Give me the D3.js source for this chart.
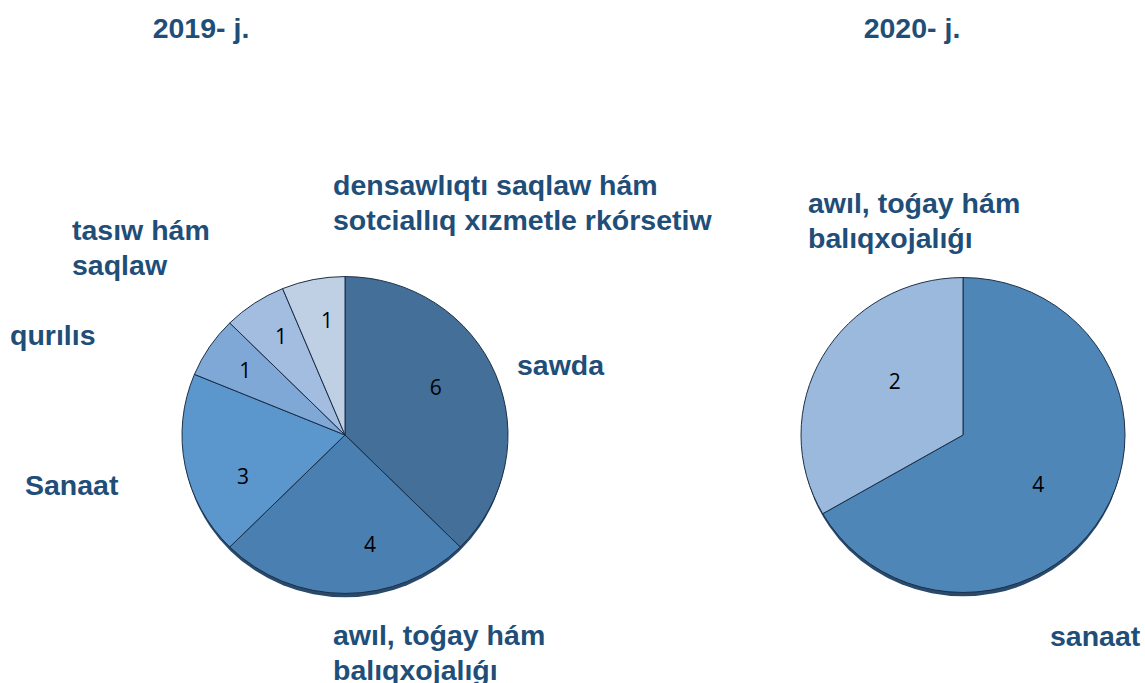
<!DOCTYPE html>
<html>
<head>
<meta charset="utf-8">
<script src="https://cdn.jsdelivr.net/npm/d3@7"></script>
<style>
  body { margin: 0; background: #fff; }
  .cat { font-family: "Liberation Sans", Arial, sans-serif; font-weight: bold; font-size: 28.5px; fill: #1f4e79; }
  .val { font-family: "Open Sans", "Liberation Sans", sans-serif; font-size: 21px; fill: #000; }
</style>
</head>
<body>
<svg id="chart" width="1145" height="683"></svg>
<script>
// Data
var titles = ["2019- j.", "2020- j."];
var cats2019 = ["sawda", "awıl, toǵay hám\nbalıqxojalıǵı", "Sanaat", "qurılıs", "tasıw hám\nsaqlaw", "densawlıqtı saqlaw hám\nsotciallıq xızmetle rkórsetiw"];
var vals2019 = [6, 4, 3, 1, 1, 1];
var cats2020 = ["sanaat", "awıl, toǵay hám\nbalıqxojalıǵı"];
var vals2020 = [4, 2];

// Layout / style
var colors2019 = ["#446f98", "#4a7fb1", "#5b96cd", "#7fa8d6", "#a3bde0", "#bfd0e5"];
var colors2020 = ["#4f86b8", "#9bb9dd"];
var pies = [
  { title: titles[0], tx: 201, cats: cats2019, vals: vals2019, colors: colors2019, cx: 345, cy: 435, r: 163, lr: 108,
    nudge: [[-9, -7], [25, 5], [4, 21], [-10, -6], [-4, -11], [3, -11]],
    labelPos: [[517, 375], [333, 645], [25, 495], [10, 345], [72, 240], [333, 195]] },
  { title: titles[1], tx: 912, cats: cats2020, vals: vals2020, colors: colors2020, cx: 963, cy: 435, r: 162, lr: 88,
    nudge: [[-1, 7], [8, -11]],
    labelPos: [[1050, 646], [808, 213]] }
];

var svg = d3.select("#chart");

pies.forEach(function(p) {
  // title
  svg.append("text").attr("class", "cat").attr("x", p.tx).attr("y", 38)
    .attr("text-anchor", "middle").text(p.title);

  var g = svg.append("g").attr("transform", "translate(" + p.cx + "," + p.cy + ") scale(1,0.972)");

  // bottom edge shadow
  g.append("ellipse").attr("cx", 0).attr("cy", 4).attr("rx", p.r - 1).attr("ry", p.r)
    .attr("fill", "#2a4a6c");

  var pie = d3.pie().sort(null).value(function(d) { return d; });
  var arc = d3.arc().innerRadius(0).outerRadius(p.r);
  var labelArc = d3.arc().innerRadius(p.lr).outerRadius(p.lr);
  var arcs = pie(p.vals);

  g.selectAll("path.slice").data(arcs).enter().append("path")
    .attr("class", "slice")
    .attr("d", arc)
    .attr("fill", function(d, i) { return p.colors[i]; })
    .attr("stroke", "#1a2e45").attr("stroke-width", 1);

  // value labels (pie centroids, nudged like the original)
  svg.selectAll(null).data(arcs).enter().append("text")
    .attr("class", "val")
    .attr("x", function(d, i) { return p.cx + labelArc.centroid(d)[0] + p.nudge[i][0]; })
    .attr("y", function(d, i) { return p.cy + labelArc.centroid(d)[1] * 0.972 + p.nudge[i][1]; })
    .attr("text-anchor", "middle").attr("dy", "0.35em")
    .text(function(d) { return d.value; });

  // category labels
  p.cats.forEach(function(cat, i) {
    var t = svg.append("text").attr("class", "cat")
      .attr("x", p.labelPos[i][0]).attr("y", p.labelPos[i][1]);
    cat.split("\n").forEach(function(line, k) {
      t.append("tspan").attr("x", p.labelPos[i][0]).attr("dy", k === 0 ? 0 : 35).text(line);
    });
  });
});
</script>
</body>
</html>
